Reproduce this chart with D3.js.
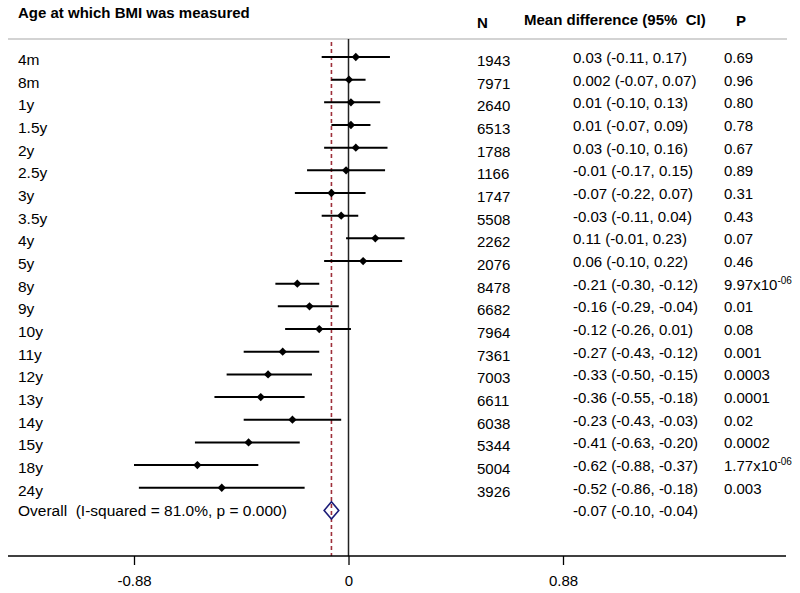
<!DOCTYPE html>
<html><head><meta charset="utf-8">
<script src="https://cdn.jsdelivr.net/npm/d3@7"></script>
<style>body{margin:0;background:#fff}svg{display:block;font-family:"Liberation Sans",Arial,sans-serif}</style>
</head><body><svg id="c" width="800" height="593"></svg>
<script>
const ages = ["4m","8m","1y","1.5y","2y","2.5y","3y","3.5y","4y","5y","8y","9y","10y","11y","12y","13y","14y","15y","18y","24y"];
const nValues = [1943,7971,2640,6513,1788,1166,1747,5508,2262,2076,8478,6682,7964,7361,7003,6611,6038,5344,5004,3926];
const estimates = [0.03,0.002,0.01,0.01,0.03,-0.01,-0.07,-0.03,0.11,0.06,-0.21,-0.16,-0.12,-0.27,-0.33,-0.36,-0.23,-0.41,-0.62,-0.52];
const lowerCI = [-0.11,-0.07,-0.10,-0.07,-0.10,-0.17,-0.22,-0.11,-0.01,-0.10,-0.30,-0.29,-0.26,-0.43,-0.50,-0.55,-0.43,-0.63,-0.88,-0.86];
const upperCI = [0.17,0.07,0.13,0.09,0.16,0.15,0.07,0.04,0.23,0.22,-0.12,-0.04,0.01,-0.12,-0.15,-0.18,-0.03,-0.20,-0.37,-0.18];
const pValues = ["0.69","0.96","0.80","0.78","0.67","0.89","0.31","0.43","0.07","0.46","9.97x10^-06","0.01","0.08","0.001","0.0003","0.0001","0.02","0.0002","1.77x10^-06","0.003"];
const overall = {label:"Overall  (I-squared = 81.0%, p = 0.000)", est:-0.07, lo:-0.10, hi:-0.04};
const tickValues = [-0.88, 0, 0.88];
const tickLabels = ["-0.88","0","0.88"];
const headers = {age:"Age at which BMI was measured", n:"N", md:"Mean difference (95%  CI)", p:"P"};

const svg = d3.select("#c");
const x = d3.scaleLinear().domain([-0.88, 0.88]).range([134, 563]);
const y = d3.scalePoint().domain(ages.concat(["Overall"])).range([57, 510.4]);
const axisY = 556, topY = 39;

function fmt(v){
  const s = (Math.abs(v) < 0.005 && v !== 0) ? v.toFixed(3) : v.toFixed(2);
  return s.replace("\u2212","-");
}

// headers
function ht(txt, xx, yy){
  svg.append("text").attr("x",xx).attr("y",yy).attr("xml:space","preserve").style("white-space","pre")
    .style("font-weight","bold").style("font-size","15px").attr("fill","#000").text(txt);
}
ht(headers.age, 18, 18);
ht(headers.n, 477, 28);
ht(headers.md, 524, 25);
ht(headers.p, 736, 26);

// separator
svg.append("line").attr("x1",8).attr("x2",787).attr("y1",topY).attr("y2",topY).attr("stroke","#c4c4c4").attr("stroke-width",1.5);

// zero line
svg.append("line").attr("x1",x(0)).attr("x2",x(0)).attr("y1",topY).attr("y2",axisY).attr("stroke","#222").attr("stroke-width",1.5);
// overall dashed line
svg.append("line").attr("x1",x(overall.est)).attr("x2",x(overall.est)).attr("y1",42).attr("y2",axisY)
  .attr("stroke","#9e2f3a").attr("stroke-width",1.6).attr("stroke-dasharray","4,3");

// CI lines and points
const rows = ages.map((a,i)=>({a, n:nValues[i], e:estimates[i], lo:lowerCI[i], hi:upperCI[i], p:pValues[i]}));
svg.append("g").selectAll("line").data(rows).join("line")
  .attr("x1",d=>x(d.lo)).attr("x2",d=>x(d.hi)).attr("y1",d=>y(d.a)).attr("y2",d=>y(d.a))
  .attr("stroke","#000").attr("stroke-width",2);
const sym = d3.symbol(d3.symbolDiamond2, 44);
svg.append("g").selectAll("path").data(rows).join("path")
  .attr("d", sym).attr("transform", d=>`translate(${x(d.e)},${y(d.a)})`).attr("fill","#000");

// overall diamond
const oy = y("Overall");
svg.append("path").attr("d", `M${x(overall.lo)},${oy} L${x(overall.est)},${oy-8.7} L${x(overall.hi)},${oy} L${x(overall.est)},${oy+8.7} Z`)
  .attr("fill","none").attr("stroke","#1c1c78").attr("stroke-width",1.6);

// text columns
const tg = svg.append("g").style("font-size","15px").attr("fill","#000");
tg.selectAll("text.lab").data(rows).join("text").attr("class","lab").attr("x",18).attr("y",d=>y(d.a)+8)
  .style("font-size","15.5px").text(d=>d.a);
tg.append("text").attr("x",18).attr("y",oy+6).attr("xml:space","preserve").style("white-space","pre")
  .style("font-size","15.5px").text(overall.label);
tg.selectAll("text.n").data(rows).join("text").attr("class","n").attr("x",477).attr("y",d=>y(d.a)+9).text(d=>d.n);
tg.selectAll("text.md").data(rows).join("text").attr("class","md").attr("x",573).attr("y",d=>y(d.a)+6)
  .text(d=>`${fmt(d.e)} (${fmt(d.lo)}, ${fmt(d.hi)})`);
tg.append("text").attr("x",573).attr("y",oy+6).text(`${fmt(overall.est)} (${fmt(overall.lo)}, ${fmt(overall.hi)})`);
tg.selectAll("text.p").data(rows).join("text").attr("class","p").attr("x",724).attr("y",d=>y(d.a)+6)
  .each(function(d){
    const t = d3.select(this);
    const parts = d.p.split("^");
    t.append("tspan").text(parts[0]);
    if (parts[1]) t.append("tspan").attr("dy",-6).style("font-size","10px").text(parts[1]);
  });

// axis
svg.append("line").attr("x1",8).attr("x2",786).attr("y1",axisY).attr("y2",axisY).attr("stroke","#000").attr("stroke-width",1.3);
const ax = d3.axisBottom(x).tickValues(tickValues).tickSize(9).tickPadding(10)
  .tickFormat((d,i)=>tickLabels[i]);
const axg = svg.append("g").attr("transform",`translate(0,${axisY})`).call(ax);
axg.select(".domain").remove();
axg.selectAll("line").attr("stroke","#000").attr("stroke-width",1.3);
axg.selectAll("text").style("font-size","15px").style("font-family","Liberation Sans, Arial, sans-serif").attr("fill","#000");
</script></body></html>
